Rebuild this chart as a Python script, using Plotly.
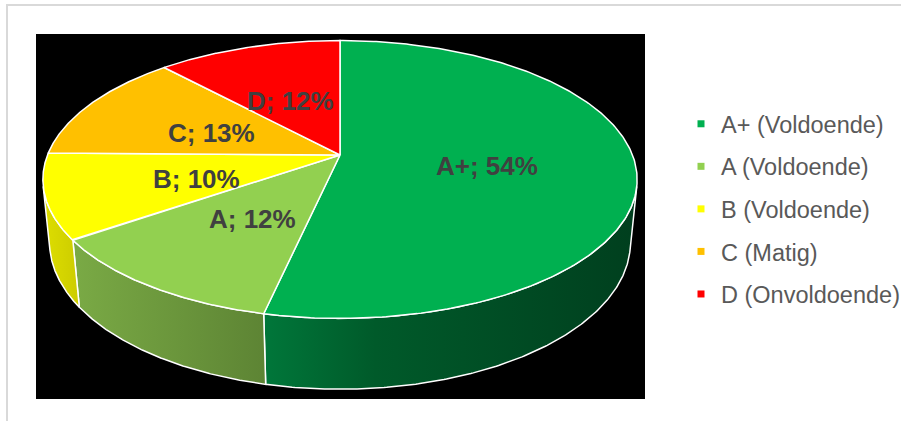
import numpy as np
import plotly.graph_objects as go

# ---- data ----
categories = ["A+ (Voldoende)", "A (Voldoende)", "B (Voldoende)", "C (Matig)", "D (Onvoldoende)"]
short_labels = ["A+", "A", "B", "C", "D"]
values = [54, 12, 10, 13, 12]  # percent as shown in the labels

# ---- styles ----
top_colors = ["#00B050", "#92D050", "#FFFF00", "#FFC000", "#FF0000"]
wall_scales = [
    [[0, "#00773a"], [0.3, "#005a2a"], [1, "#003f1e"]],
    [[0, "#7aaa45"], [1, "#5d8434"]],
    [[0, "#dede00"], [1, "#cccc00"]],
    [[0, "#d9a300"], [1, "#c89600"]],
    [[0, "#d90000"], [1, "#c00000"]],
]
FONT = "Liberation Sans, Arial, sans-serif"

# perspective projection of a tilted disc (3-D pie look)
CAM_D = 5.04
ELEV = np.radians(27.4)
DEPTH = 0.245


def project(phi_deg, r=1.0, zup=0.0):
    phi = np.radians(phi_deg)
    X = r * np.sin(phi)
    Y = r * np.cos(phi)
    z = CAM_D + Y * np.cos(ELEV) - zup * np.sin(ELEV)
    v = Y * np.sin(ELEV) + zup * np.cos(ELEV)
    return X * CAM_D / z, v * CAM_D / z


phi_vis = np.degrees(np.arccos(-1.0 / (CAM_D * np.cos(ELEV))))
vis_lo, vis_hi = phi_vis, 360 - phi_vis

total = float(sum(values))
bounds = np.concatenate([[0], np.cumsum(values) / total * 360.0])

fig = go.Figure()

# side walls
for i in range(len(values)):
    a0, a1 = max(bounds[i], vis_lo), min(bounds[i + 1], vis_hi)
    if a1 <= a0:
        continue
    ang = np.linspace(a0, a1, 200)
    xt, yt = project(ang)
    xb, yb = project(ang[::-1], zup=-DEPTH)
    xs = np.concatenate([xt, xb, xt[:1]])
    ys = np.concatenate([yt, yb, yt[:1]])
    fig.add_trace(go.Scatter(
        x=xs, y=ys, mode="lines", fill="toself",
        fillcolor=top_colors[i],
        fillgradient=dict(type="horizontal", colorscale=wall_scales[i]),
        line=dict(color="white", width=1.5),
        hoverinfo="skip", showlegend=False))

# top faces
for i in range(len(values)):
    ang = np.linspace(bounds[i], bounds[i + 1], 300)
    xa, ya = project(ang)
    xs = np.concatenate([[0], xa, [0]])
    ys = np.concatenate([[0], ya, [0]])
    fig.add_trace(go.Scatter(
        x=xs, y=ys, mode="lines", fill="toself", fillcolor=top_colors[i],
        line=dict(color="white", width=1.5),
        hoverinfo="skip", showlegend=False))

# data labels at half radius, mid angle
mids = (bounds[:-1] + bounds[1:]) / 2
lx, ly = project(mids, r=0.5)
for x, y, s, v in zip(lx, ly, short_labels, values):
    fig.add_annotation(x=x, y=y, text=f"<b>{s}; {v}%</b>", showarrow=False,
                       yshift=-4, font=dict(family=FONT, size=26, color="#404040"))

# legend entries
for i, name in enumerate(categories):
    fig.add_trace(go.Scatter(
        x=[None], y=[None], mode="markers", name=name,
        marker=dict(symbol="square", size=7, color=top_colors[i]),
        legendgroup=f"g{i}", showlegend=True))

W, H = 901, 421
L, R, T, B = 36, 256, 34, 22
PX = 292.5
apx, apy = 340, 155
x_range = [-(apx - L) / PX, (W - R - apx) / PX]
y_range = [-(H - B - apy) / PX, (apy - T) / PX]

pw, ph = W - L - R, H - T - B
fig.add_shape(type="rect", xref="paper", yref="paper",
              x0=(7 - L) / pw, x1=(960 - L) / pw,
              y0=(H - B - 460) / ph, y1=(H - B - 5) / ph,
              line=dict(color="#d9d9d9", width=2), fillcolor="rgba(0,0,0,0)",
              layer="below")

fig.update_layout(
    width=W, height=H,
    margin=dict(l=L, r=R, t=T, b=B, autoexpand=False),
    paper_bgcolor="white", plot_bgcolor="black",
    xaxis=dict(range=x_range, visible=False, fixedrange=True),
    yaxis=dict(range=y_range, visible=False, fixedrange=True),
    legend=dict(x=(681 - L) / pw, xanchor="left", y=(H - B - 102) / ph, yanchor="top",
                font=dict(family=FONT, size=23.5, color="#595959"),
                tracegroupgap=9, bgcolor="rgba(0,0,0,0)", itemwidth=30),
    showlegend=True,
)

fig.write_html("out.html", config={"displayModeBar": False},
               post_script="document.body.style.margin='0px';document.body.style.overflow='hidden';")
